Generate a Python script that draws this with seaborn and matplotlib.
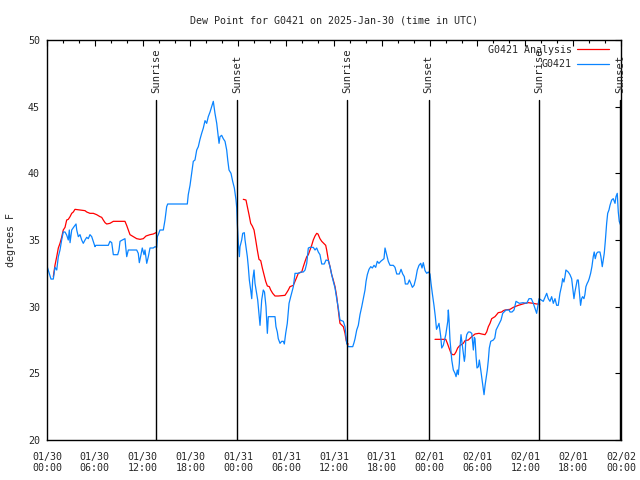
import pandas as pd
import numpy as np
import matplotlib
matplotlib.use("Agg")
import matplotlib.pyplot as plt
import matplotlib.dates as mdates
import seaborn as sns

# hours since 2025-01-30 00:00 UTC, dew point in F
obs_hours = [0.0, 0.5, 0.79, 1.0, 1.22, 1.42, 1.63, 1.84, 2.04, 2.26, 2.47, 2.67, 2.80, 2.89, 3.10,
             3.39, 3.64, 3.73, 3.93, 4.14, 4.35, 4.55, 4.77, 4.98, 5.18, 5.39, 5.61, 6.02, 6.11, 7.69,
             7.90, 8.12, 8.32, 8.87, 9.03, 9.16, 9.45, 9.78, 9.87, 10.0, 10.2, 11.25, 11.45, 11.58,
             11.79, 11.95, 12.17, 12.29, 12.51, 12.71, 12.92, 13.33, 13.55, 13.76, 13.84, 13.96,
             14.17, 14.59, 14.80, 15.01, 15.14, 17.60, 17.72, 17.94, 18.15, 18.35, 18.56, 18.78,
             18.98, 19.19, 19.40, 19.61, 19.82, 20.03, 20.23, 20.45, 20.66, 20.86, 20.95, 21.07,
             21.29, 21.41, 21.58, 21.70, 21.91, 22.11, 22.33, 22.54, 22.67, 22.83, 23.08, 23.29,
             23.50, 23.71, 23.80, 23.87, 24.0, 24.13, 24.21, 24.42, 24.55, 24.75, 24.84, 24.96,
             25.13, 25.25, 25.38, 25.55, 25.68, 25.80, 25.97, 26.09, 26.30, 26.43, 26.59, 26.72,
             26.93, 27.13, 27.28, 27.47, 27.64, 27.76, 28.60, 28.72, 28.89, 29.01, 29.23, 29.44,
             29.64, 29.77, 29.94, 30.14, 30.36, 30.57, 30.90, 31.11, 31.52, 31.86, 32.15, 32.37,
             32.58, 32.78, 32.99, 33.40, 33.62, 33.83, 34.03, 34.24, 34.46, 34.78, 35.0, 35.29,
             35.50, 35.71, 35.91, 36.13, 36.34, 36.54, 36.75, 37.17, 37.38, 37.51, 37.59, 37.80,
             38.35, 38.51, 38.64, 38.85, 39.05, 39.26, 39.48, 39.68, 39.89, 40.02, 40.18, 40.39,
             40.61, 40.81, 41.02, 41.23, 41.43, 41.64, 41.86, 42.06, 42.27, 42.40, 42.61, 42.81,
             43.03, 43.44, 43.65, 43.87, 44.19, 44.41, 44.62, 44.82, 44.95, 45.25, 45.45, 45.63,
             45.83, 46.04, 46.25, 46.45, 46.66, 46.88, 47.04, 47.20, 47.42, 47.63, 47.83, 48.04,
             48.17, 48.33, 48.54, 48.71, 48.86, 49.01, 49.17, 49.39, 49.51, 49.71, 50.02, 50.14,
             50.27, 50.34, 50.43, 50.55, 50.77, 50.97, 51.18, 51.31, 51.47, 51.59, 51.72, 51.81,
             51.93, 52.10, 52.35, 52.44, 52.52, 52.65, 52.85, 53.06, 53.28, 53.48, 53.60, 53.69,
             53.82, 53.94, 54.11, 54.23, 54.41, 54.66, 54.82, 54.95, 55.07, 55.23, 55.36, 55.48,
             55.66, 55.99, 56.17, 56.33, 56.62, 56.95, 57.16, 57.58, 57.96, 58.08, 58.33, 58.58,
             58.83, 59.25, 59.71, 60.17, 60.46, 60.75, 61.0, 61.42, 61.55, 61.72, 62.25, 62.68,
             62.88, 63.09, 63.30, 63.51, 63.72, 63.93, 64.13, 64.34, 64.56, 64.68, 64.84, 64.97,
             65.09, 65.38, 65.60, 65.81, 65.93, 66.10, 66.22, 66.35, 66.51, 66.64, 66.76, 66.93,
             67.06, 67.18, 67.35, 67.47, 67.60, 67.76, 67.89, 68.01, 68.19, 68.35, 68.52, 68.64,
             68.77, 68.94, 69.11, 69.36, 69.48, 69.65, 69.77, 69.90, 70.03, 70.20, 70.33, 70.49,
             70.62, 70.83, 71.03, 71.25, 71.37, 71.53, 71.66, 71.78, 71.96]
obs_dewp = [33.05, 32.07, 32.07, 32.95, 32.75, 33.75, 34.25, 35.0, 35.6, 35.6, 35.37, 35.0, 35.75, 34.8,
            35.75, 36.0, 36.2, 35.75, 35.25, 35.4, 35.0, 34.75, 35.0, 35.2, 35.1, 35.4, 35.25, 34.5,
            34.6, 34.6, 34.9, 34.8, 33.9, 33.9, 34.25, 34.9, 35.0, 35.1, 34.5, 33.75, 34.25, 34.25,
            34.0, 33.3, 33.9, 34.4, 33.9, 34.25, 33.25, 33.75, 34.4, 34.4, 34.5, 34.45, 35.25, 35.4,
            35.75, 35.75, 36.5, 37.5, 37.7, 37.7, 38.4, 39.1, 40.0, 40.9, 41.0, 41.75, 42.0, 42.55,
            43.0, 43.4, 43.95, 43.75, 44.25, 44.6, 45.0, 45.4, 45.0, 44.5, 43.75, 43.1, 42.25, 42.75,
            42.85, 42.6, 42.4, 41.75, 41.0, 40.25, 40.0, 39.4, 38.9, 38.0, 37.4, 36.25, 34.75, 33.75,
            34.5, 35.0, 35.5, 35.55, 35.0, 34.5, 33.75, 33.0, 32.0, 31.25, 30.6, 32.0, 32.75, 31.75,
            31.0, 30.5, 29.5, 28.6, 30.5, 31.25, 31.1, 30.0, 28.0, 29.25, 29.25, 28.5, 28.1, 27.6,
            27.25, 27.4, 27.4, 27.2, 28.0, 28.75, 30.25, 30.75, 31.5, 32.5, 32.5, 32.6, 32.6, 32.75,
            33.25, 34.4, 34.45, 34.45, 34.25, 34.4, 34.1, 33.9, 33.2, 33.2, 33.5, 33.45, 33.0, 32.4,
            31.9, 31.4, 30.6, 29.9, 29.0, 28.9, 28.5, 27.75, 27.25, 27.0, 27.0, 27.3, 27.6, 28.25,
            28.6, 29.4, 30.0, 30.6, 31.25, 31.9, 32.4, 32.8, 33.0, 32.9, 33.1, 32.95, 33.4, 33.25,
            33.4, 33.5, 33.6, 34.4, 33.9, 33.4, 33.1, 33.1, 32.95, 32.45, 32.45, 32.8, 32.45, 32.25,
            31.7, 31.7, 32.0, 31.75, 31.45, 31.6, 32.1, 32.75, 33.1, 33.25, 32.9, 33.3, 32.7, 32.5,
            32.6, 32.45, 31.75, 31.0, 30.1, 29.25, 28.3, 28.5, 28.75, 27.75, 26.9, 27.1, 27.9, 28.4,
            28.9, 29.75, 29.0, 27.5, 26.0, 25.25, 25.0, 24.75, 25.25, 24.9, 25.75, 27.0, 27.9, 27.1,
            25.9, 26.3, 27.4, 27.9, 28.1, 28.1, 28.0, 26.75, 27.7, 27.6, 26.25, 25.4, 25.5, 26.0,
            25.25, 24.1, 23.4, 24.1, 24.6, 25.25, 26.0, 26.9, 27.4, 27.5, 27.65, 28.25, 28.6, 29.0,
            29.5, 29.75, 29.75, 29.6, 29.6, 29.75, 30.4, 30.25, 30.3, 30.25, 30.6, 30.6, 30.25, 29.5,
            30.0, 30.6, 30.4, 31.0, 30.6, 30.4, 30.75, 30.25, 30.6, 30.1, 30.1, 31.0, 31.6, 32.1,
            31.85, 32.25, 32.75, 32.6, 32.4, 32.1, 31.5, 30.6, 31.1, 31.5, 32.0, 32.0, 31.25, 30.1,
            30.6, 30.75, 30.6, 30.9, 31.5, 31.75, 31.9, 32.1, 32.5, 33.0, 33.75, 34.1, 33.6, 34.0,
            34.1, 34.1, 33.75, 33.0, 33.5, 34.0, 34.9, 36.25, 37.0, 37.25, 37.6, 38.0, 38.1, 37.75,
            38.25, 38.5, 37.1, 36.4, 36.1]

# analysis, three overnight pieces
ana1_hours = [0.79, 1.0, 1.22, 1.42, 1.63, 1.84, 2.04, 2.26, 2.47, 2.67, 2.89, 3.10, 3.30, 3.51, 4.14,
              4.77, 4.98, 5.39, 5.81, 6.23, 6.65, 6.86, 7.06, 7.28, 7.49, 7.90, 8.32, 9.78, 9.99,
              10.20, 10.41, 10.83, 11.25, 11.67, 12.08, 12.42, 12.92, 13.33, 13.67]
ana1_dewp = [32.25, 33.1, 33.75, 34.4, 34.75, 35.2, 35.75, 35.95, 36.5, 36.55, 36.75, 37.0, 37.1, 37.3,
             37.25, 37.2, 37.1, 37.0, 37.0, 36.9, 36.75, 36.7, 36.5, 36.3, 36.2, 36.25, 36.4, 36.4,
             36.1, 35.75, 35.4, 35.25, 35.1, 35.05, 35.1, 35.3, 35.4, 35.45, 35.55]
ana2_hours = [24.62, 24.96, 25.13, 25.34, 25.55, 25.75, 25.97, 26.18, 26.38, 26.59, 26.81, 27.01, 27.22,
              27.43, 27.64, 27.89, 28.06, 28.31, 28.60, 29.01, 29.85, 30.07, 30.27, 30.48, 30.90,
              31.11, 31.32, 31.52, 31.95, 32.15, 32.37, 32.58, 32.78, 32.99, 33.20, 33.40, 33.62,
              33.83, 33.99, 34.24, 34.46, 34.96, 35.08, 35.29, 35.50, 35.71, 35.91, 36.13, 36.34,
              36.54, 36.67, 36.75, 37.17, 37.38, 37.51, 37.67, 37.80]
ana2_dewp = [38.05, 38.0, 37.5, 36.9, 36.25, 36.05, 35.75, 35.0, 34.25, 33.55, 33.45, 32.9, 32.4, 31.9,
             31.55, 31.5, 31.25, 31.0, 30.8, 30.8, 30.85, 31.05, 31.25, 31.5, 31.6, 31.9, 32.2, 32.5,
             32.6, 33.0, 33.4, 33.75, 33.9, 34.25, 34.6, 35.0, 35.3, 35.5, 35.45, 35.1, 34.9, 34.6,
             34.25, 33.5, 33.0, 32.4, 32.0, 31.5, 30.75, 29.75, 29.1, 28.75, 28.5, 28.0, 27.5, 27.2,
             27.2]
ana3_hours = [48.67, 50.02, 50.22, 50.43, 50.68, 50.89, 51.09, 51.30, 51.51, 51.72, 52.22, 52.43, 52.85,
              53.28, 53.69, 54.19, 54.52, 54.94, 55.15, 55.36, 55.57, 55.78, 56.19, 56.40, 56.60,
              57.03, 57.24, 57.45, 58.08, 58.49, 59.12, 59.96, 60.37, 61.0, 61.42, 61.82]
ana3_dewp = [27.55, 27.55, 27.25, 26.9, 26.5, 26.4, 26.4, 26.6, 26.9, 27.05, 27.25, 27.45, 27.5, 27.75,
             27.95, 28.0, 27.95, 27.9, 28.1, 28.5, 28.75, 29.1, 29.25, 29.4, 29.55, 29.6, 29.7, 29.75,
             29.8, 29.95, 30.1, 30.25, 30.3, 30.25, 30.2, 30.2]

sun_hours = [13.68, 23.85, 37.66, 47.88, 61.70, 71.93]
sun_labels = ["Sunrise", "Sunset", "Sunrise", "Sunset", "Sunrise", "Sunset"]

base = pd.Timestamp("2025-01-30 00:00")
def to_time(h):
    return base + pd.to_timedelta(h, unit="h")

obs = pd.DataFrame({"time": to_time(obs_hours), "dewp": obs_dewp})
ana = [pd.DataFrame({"time": to_time(h), "dewp": d})
       for h, d in [(ana1_hours, ana1_dewp), (ana2_hours, ana2_dewp), (ana3_hours, ana3_dewp)]]

sns.set_style("white")
plt.rcParams["font.family"] = ["DejaVu Sans Mono", "DejaVu Sans"]
plt.rcParams["font.size"] = 7.2

fig = plt.figure(figsize=(6.4, 4.8), dpi=100)
ax = fig.add_axes([47 / 640, 40 / 480, 574 / 640, 400 / 480])

for i, seg in enumerate(ana):
    sns.lineplot(data=seg, x="time", y="dewp", ax=ax, color="#FF0000", lw=0.9,
                 estimator=None, label="G0421 Analysis" if i == 0 else None)
sns.lineplot(data=obs, x="time", y="dewp", ax=ax, color="#0A84FF", lw=0.9,
             estimator=None, label="G0421")

for h, lab in zip(sun_hours, sun_labels):
    t = to_time(h)
    ax.axvline(t, ymin=0, ymax=0.85, color="black", lw=1.0)
    ax.text(t, 0.868, lab, transform=ax.get_xaxis_transform(), rotation=90,
            ha="center", va="bottom", fontsize=7.6, clip_on=False)

ax.set_xlim(base, to_time(72))
ax.set_ylim(20, 50)
ax.set_yticks([20, 25, 30, 35, 40, 45, 50])
ax.xaxis.set_major_locator(mdates.HourLocator(byhour=[0, 6, 12, 18]))
ax.xaxis.set_minor_locator(mdates.HourLocator(byhour=range(0, 24, 2)))
ax.xaxis.set_major_formatter(mdates.DateFormatter("%m/%d\n%H:%M"))
ax.tick_params(which="both", direction="in", top=True, right=True, color="black")
ax.tick_params(which="major", length=4, width=0.8)
ax.tick_params(which="minor", length=2.2, width=0.8)
ax.tick_params(axis="x", which="major", pad=8.5, labelsize=7.2)
ax.tick_params(axis="y", which="major", pad=5, labelsize=7.2)

for s in ax.spines.values():
    s.set_color("black")
    s.set_linewidth(1.0)

ax.set_xlabel("")
ax.set_ylabel("degrees F", fontsize=7.2, labelpad=9)
ax.set_title("Dew Point for G0421 on 2025-Jan-30 (time in UTC)", fontsize=7.2, pad=12)

ax.legend(loc="upper right", bbox_to_anchor=(1 - 7 / 574, 1), frameon=False,
          markerfirst=False, fontsize=7.2, handlelength=3.2, handletextpad=0.5,
          labelspacing=0.45, borderaxespad=0.3, borderpad=0.2)

fig.savefig("out.png", dpi=100)
